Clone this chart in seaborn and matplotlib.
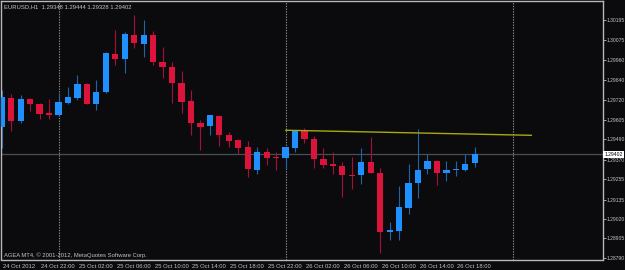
import numpy as np
import pandas as pd
import seaborn as sns
import matplotlib.pyplot as plt
import matplotlib.transforms as mtransforms

# EURUSD H1 bars, 24 Oct 2012 18:00 -> 26 Oct 2012 20:00
start = pd.Timestamp('2012-10-24 18:00')
opens = [1.29565, 1.29733, 1.29601, 1.29727, 1.29699, 1.29644, 1.29636, 1.29707, 1.29736, 1.29815,
         1.29701, 1.29772, 1.29996, 1.29967, 1.30108, 1.30055, 1.30105, 1.29949, 1.29916, 1.29825,
         1.29715, 1.29587, 1.29568, 1.29630, 1.29518, 1.29487, 1.29444, 1.29310, 1.29414, 1.29386,
         1.29379, 1.29441, 1.29540, 1.29493, 1.29375, 1.29345, 1.29333, 1.29280, 1.29278, 1.29357,
         1.29294, 1.28945, 1.28951, 1.29087, 1.29235, 1.29314, 1.29363, 1.29294, 1.29311, 1.29310,
         1.29348]
highs = [1.29782, 1.29758, 1.29751, 1.29732, 1.29702, 1.29729, 1.29766, 1.29801, 1.29870, 1.29821,
         1.29841, 1.30004, 1.30136, 1.30126, 1.30223, 1.30195, 1.30130, 1.30037, 1.29949, 1.29894,
         1.29782, 1.29605, 1.29634, 1.29634, 1.29536, 1.29493, 1.29481, 1.29444, 1.29438, 1.29414,
         1.29445, 1.29546, 1.29556, 1.29510, 1.29438, 1.29418, 1.29355, 1.29388, 1.29438, 1.29506,
         1.29320, 1.29003, 1.29215, 1.29345, 1.29552, 1.29404, 1.29369, 1.29363, 1.29363, 1.29404,
         1.29444]
lows = [1.29438, 1.29542, 1.29589, 1.29658, 1.29611, 1.29611, 1.29630, 1.29697, 1.29725, 1.29697,
        1.29662, 1.29766, 1.29928, 1.29880, 1.30032, 1.29978, 1.29929, 1.29850, 1.29707, 1.29648,
        1.29516, 1.29428, 1.29516, 1.29449, 1.29444, 1.29402, 1.29267, 1.29286, 1.29341, 1.29310,
        1.29314, 1.29418, 1.29467, 1.29323, 1.29323, 1.29286, 1.29152, 1.29196, 1.29227, 1.29294,
        1.28821, 1.28896, 1.28896, 1.29050, 1.29143, 1.29286, 1.29221, 1.29245, 1.29274, 1.29305,
        1.29328]
closes = [1.29739, 1.29601, 1.29727, 1.29697, 1.29642, 1.29636, 1.29709, 1.29739, 1.29815, 1.29701,
          1.29772, 1.30000, 1.29967, 1.30112, 1.30057, 1.30106, 1.29945, 1.29916, 1.29825, 1.29711,
          1.29585, 1.29563, 1.29634, 1.29514, 1.29481, 1.29441, 1.29314, 1.29416, 1.29382, 1.29380,
          1.29445, 1.29542, 1.29491, 1.29373, 1.29339, 1.29331, 1.29278, 1.29276, 1.29357, 1.29294,
          1.28945, 1.28954, 1.29089, 1.29233, 1.29311, 1.29363, 1.29294, 1.29311, 1.29316, 1.29345,
          1.29402]

# yellow trend line drawn on the chart
trend_times = ['2012-10-26 00:00', '2012-10-27 02:00']
trend_prices = [1.29544, 1.29514]

# day separators
day_starts = ['2012-10-25 00:00', '2012-10-26 00:00', '2012-10-27 00:00']

# axis labels
price_ticks = [1.30195, 1.30075, 1.29960, 1.29840, 1.29720, 1.29605, 1.29490,
               1.29370, 1.29255, 1.29135, 1.29020, 1.28905, 1.28790]
time_ticks = ['2012-10-24 18:00', '2012-10-24 22:00', '2012-10-25 02:00', '2012-10-25 06:00',
              '2012-10-25 10:00', '2012-10-25 14:00', '2012-10-25 18:00', '2012-10-25 22:00',
              '2012-10-26 02:00', '2012-10-26 06:00', '2012-10-26 10:00', '2012-10-26 14:00',
              '2012-10-26 18:00']
time_labels = ['24 Oct 2012', '24 Oct 22:00', '25 Oct 02:00', '25 Oct 06:00', '25 Oct 10:00',
               '25 Oct 14:00', '25 Oct 18:00', '25 Oct 22:00', '26 Oct 02:00', '26 Oct 06:00',
               '26 Oct 10:00', '26 Oct 14:00', '26 Oct 18:00']

symbol = 'EURUSD,H1'
copyright_text = 'AGEA MT4, \u00a9 2001-2012, MetaQuotes Software Corp.'


def hours_from_start(t):
    return (pd.to_datetime(t) - start) / pd.Timedelta(hours=1)


times = pd.date_range(start, periods=len(opens), freq='h')
df = pd.DataFrame({'time': times, 'open': opens, 'high': highs, 'low': lows, 'close': closes})
df['pos'] = hours_from_start(df['time'])
df['bull'] = df['close'] >= df['open']

bg = '#0b0b0d'
fg = '#c4c4c4'
bull_body, bear_body = '#1e90ff', '#dc143c'
bull_wick, bear_wick = '#1f64a8', '#a5103a'

sns.set_style('dark', rc={'axes.facecolor': bg, 'figure.facecolor': bg,
                          'axes.edgecolor': '#b8b8b8', 'grid.color': bg})
plt.rcParams['font.family'] = ['Liberation Sans', 'DejaVu Sans']

fig = plt.figure(figsize=(6.25, 2.7), dpi=100)
ax = fig.add_axes([1 / 625, 10.5 / 270, 601.5 / 625, 258.2 / 270])
ax.set_facecolor(bg)

# day separators
for d in day_starts:
    ax.axvline(hours_from_start(d), color='#8c8c8c', lw=0.8, ls=(0, (1.2, 1.2)), zorder=1)

# bid line
ax.axhline(closes[-1], color='#4a4e55', lw=0.9, zorder=1)

# wicks
wick_colors = np.where(df['bull'], bull_wick, bear_wick)
ax.vlines(df['pos'], df['low'], df['high'], colors=wick_colors, lw=0.8, zorder=2)

# bodies
body_bottom = df[['open', 'close']].min(axis=1)
body_height = (df['close'] - df['open']).abs().clip(lower=0.00004)
body_colors = np.where(df['bull'], bull_body, bear_body)
ax.bar(df['pos'], body_height, bottom=body_bottom, width=0.66, color=body_colors,
       linewidth=0, zorder=3)

# trend line
trend = pd.DataFrame({'pos': [hours_from_start(t) for t in trend_times], 'price': trend_prices})
sns.lineplot(data=trend, x='pos', y='price', color='#a9a712', lw=1.0, ax=ax, zorder=4)

ax.set_xlim(-0.08, 63.5)
ax.set_ylim(1.28781, 1.30305)
ax.set_xlabel('')
ax.set_ylabel('')
for s in ax.spines.values():
    s.set_linewidth(1.0)
    s.set_color('#b8b8b8')

# price axis on the right
ax.yaxis.tick_right()
ax.set_yticks(price_ticks)
ax.set_yticklabels([f'{p:.5f}' for p in price_ticks])
ax.tick_params(axis='y', colors=fg, labelsize=3.6, length=2, width=0.6, pad=1.2, direction='out')

# time axis
ax.set_xticks([hours_from_start(t) for t in time_ticks])
ax.set_xticklabels(time_labels)
ax.tick_params(axis='x', colors=fg, labelsize=4.2, length=2.5, width=0.6, pad=1.0, direction='out')
offset = mtransforms.ScaledTranslation(1.5 / 100, 0, fig.dpi_scale_trans)
for lab in ax.get_xticklabels():
    lab.set_horizontalalignment('left')
    lab.set_transform(lab.get_transform() + offset)

# current price box
ax.text(1.003, closes[-1], f'{closes[-1]:.5f}', transform=ax.get_yaxis_transform(),
        fontsize=3.6, color='black', va='center', ha='left', zorder=10, clip_on=False,
        bbox=dict(boxstyle='square,pad=0.25', fc='white', ec='white', lw=0))

# header and footer text
header = f'{symbol}  ' + ' '.join(f'{v:.5f}' for v in [opens[-1], highs[-1], lows[-1], closes[-1]])
fig.text(4 / 625, 1 - 6.5 / 270, header, fontsize=4.2, color=fg, va='center', ha='left')
fig.text(3.5 / 625, 1 - 255.5 / 270, copyright_text, fontsize=4.2, color=fg, va='center', ha='left')

fig.savefig('out.png', dpi=100, facecolor=bg)
